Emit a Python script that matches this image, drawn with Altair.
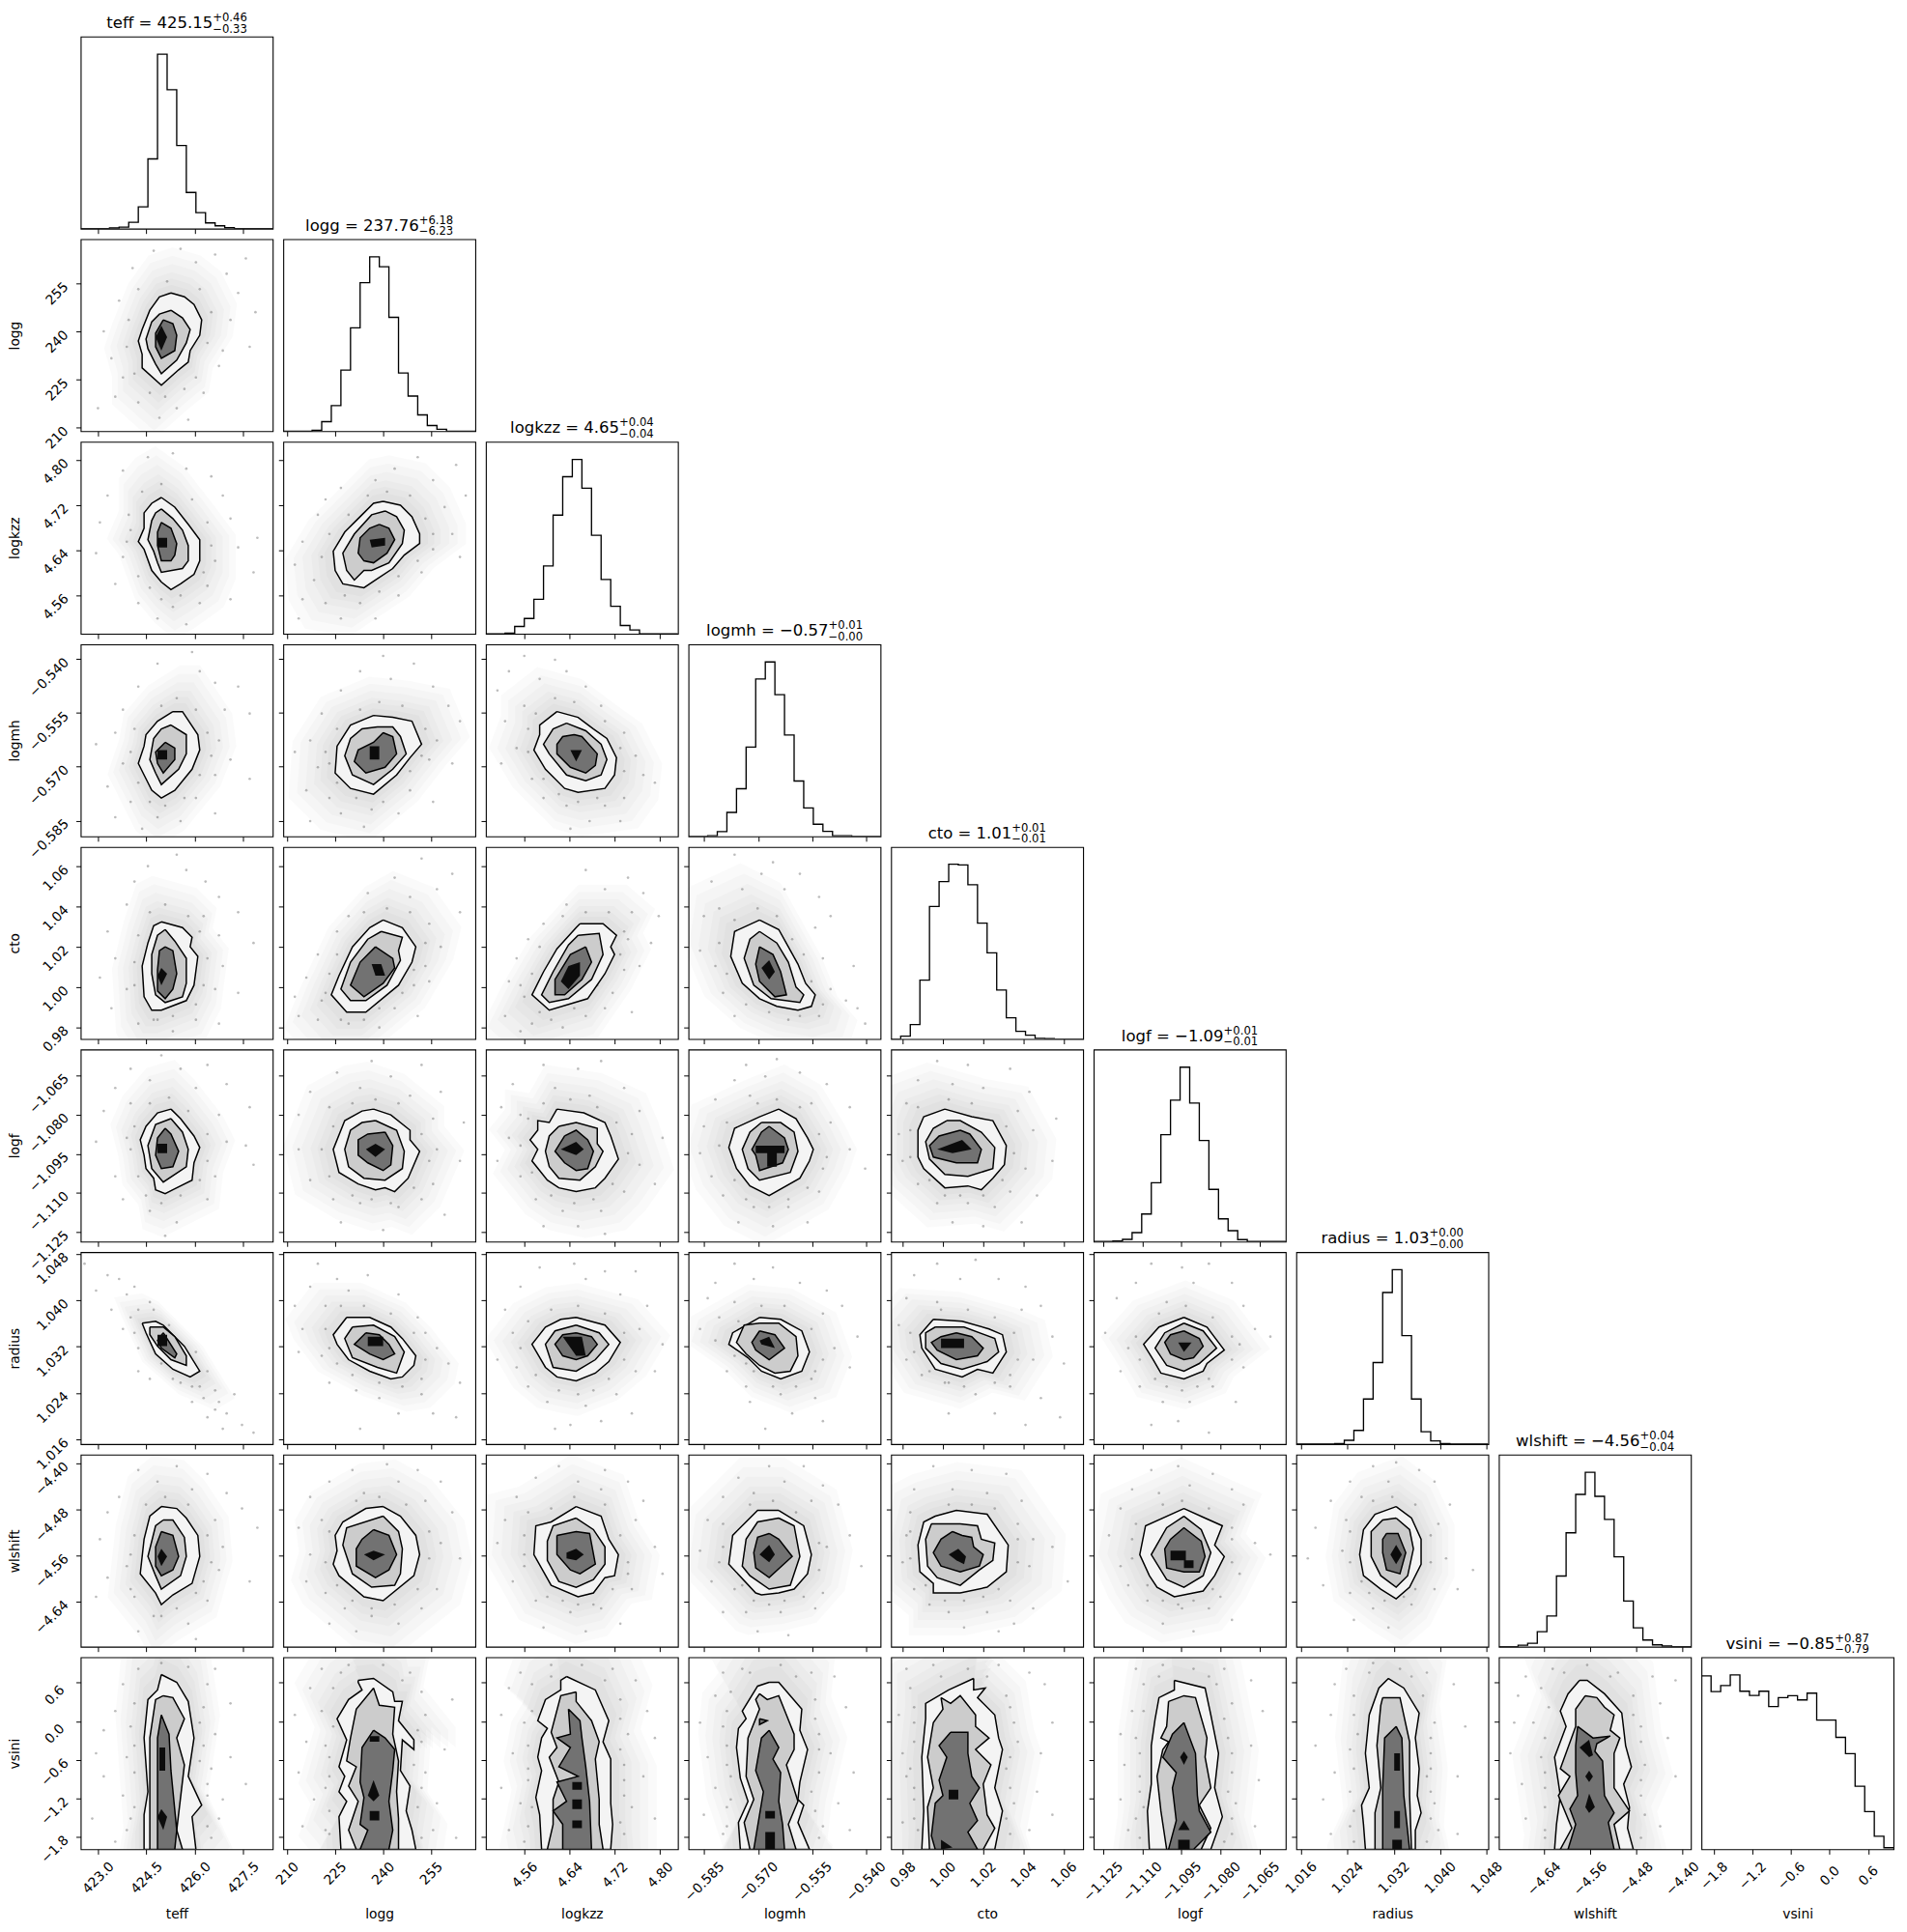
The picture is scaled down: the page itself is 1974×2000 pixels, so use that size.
import altair as alt
import pandas as pd

NAMES = ["teff", "logg", "logkzz", "logmh", "cto", "logf", "radius", "wlshift", "vsini"]
LOW = [422.46, 208.8, 4.4913, -0.5894, 0.9742, -1.1286, 1.01517, -4.7183, -1.994]
HIGH = [428.42, 268.8, 4.8317, -0.5359, 1.0696, -1.0551, 1.0483, -4.385, 0.994]
TICKS = [
    [423.0, 424.5, 426.0, 427.5], [210, 225, 240, 255], [4.56, 4.64, 4.72, 4.80],
    [-0.585, -0.570, -0.555, -0.540], [0.98, 1.00, 1.02, 1.04, 1.06],
    [-1.125, -1.110, -1.095, -1.080, -1.065], [1.016, 1.024, 1.032, 1.040, 1.048],
    [-4.64, -4.56, -4.48, -4.40], [-1.8, -1.2, -0.6, 0.0, 0.6],
]
FORMATS = [".1f", "d", ".2f", ".3f", ".2f", ".3f", ".3f", ".2f", ".1f"]
TITLE_MAIN = ["425.15", "237.76", "4.65", "\u22120.57", "1.01", "\u22121.09", "1.03", "\u22124.56", "\u22120.85"]
TITLE_UP = ["+0.46", "+6.18", "+0.04", "+0.01", "+0.01", "+0.01", "+0.00", "+0.04", "+0.87"]
TITLE_DOWN = ["\u22120.33", "\u22126.23", "\u22120.04", "\u22120.00", "\u22120.01", "\u22120.01", "\u22120.00", "\u22120.04", "\u22120.79"]

HIST = [
    [0, 0, 0, 2, 5, 20, 68, 218, 545, 434, 260, 113, 50, 18, 9, 3, 0, 0, 0, 0],
    [0, 0, 0, 3, 30, 80, 191, 323, 464, 545, 514, 356, 182, 110, 51, 18, 6, 0, 0, 0],
    [0, 0, 2, 23, 48, 108, 212, 371, 491, 545, 455, 308, 170, 86, 26, 12, 0, 0, 0, 0],
    [0, 0, 2, 15, 75, 149, 279, 492, 545, 443, 317, 173, 89, 38, 16, 2, 2, 0, 0, 0],
    [0, 9, 45, 184, 414, 492, 546, 544, 482, 362, 269, 153, 66, 24, 12, 2, 1, 0, 0, 0],
    [0, 0, 2, 7, 28, 86, 184, 334, 442, 545, 433, 316, 163, 71, 34, 6, 0, 0, 0, 0],
    [0, 0, 0, 0, 2, 12, 43, 141, 255, 474, 545, 339, 141, 39, 10, 2, 0, 0, 0, 0],
    [0, 0, 5, 11, 47, 96, 221, 356, 476, 545, 470, 398, 281, 143, 59, 21, 6, 2, 0, 0],
    [542, 493, 512, 545, 494, 481, 494, 446, 474, 480, 467, 488, 404, 404, 350, 299, 197, 118, 41, 5],
]

# Contours, as percent of the axis span (x from the left, y from the top).
# (row, col): (outer level, middle level, inner pieces, darkest pieces)
CONTOURS = {
(1,0):("47,28 54,30 59,34 63,42 62,50 57,58 56,64 51,68 42,76 32,67 32,60 30,53 32,47 36,37 41,30","47,37 53,41 57,47 55,54 50,63 42,70 39,65 35,57 34,52 37,43 41,39","43,42 48,44 50,50 49,58 42,62 39,56 39,49","42,45 45,51 42,58 39,51"),
(2,0):("42,29 49,34 56,43 62,51 62,62 59,69 52,74 47,77 42,73 37,67 33,56 30,52 33,45 33,37 37,32","42,35 48,40 53,46 56,54 56,62 53,66 42,68 40,63 38,57 35,51 37,41 39,37","42,42 47,45 50,53 49,59 47,62 42,62 40,54 40,47","40,50 45,50 45,55 40,55"),
(2,1):("52,31 61,33 67,39 71,48 71,53 63,59 57,66 48,72 42,76 31,74 27,67 26,57 32,47 40,39 47,32","53,36 59,39 63,46 62,53 55,63 46,67 42,67 37,72 33,67 31,58 37,48 46,38","50,43 55,45 58,51 54,58 47,63 42,62 39,58 40,50 45,45","45,51 53,50 53,54 46,55"),
(3,0):("48,35 53,35 61,47 62,55 58,65 49,76 42,80 37,76 33,68 30,62 33,53 34,47 40,40","47,42 55,47 55,57 51,65 42,73 39,67 36,60 38,49 42,44","44,51 49,54 49,60 43,67 40,62 39,56","40,55 45,55 45,60 40,60"),
(3,1):("47,37 57,38 67,40 72,52 66,59 59,68 47,78 35,75 27,67 28,53 35,42","49,43 57,43 61,48 64,57 57,65 47,73 36,68 32,58 35,49 41,44","52,46 57,48 59,57 53,64 43,67 37,61 39,55 47,51","45,53 50,53 50,60 45,60"),
(3,2):("37,35 48,38 56,44 63,49 68,59 67,68 62,75 48,77 41,75 31,65 25,55 28,47 28,42","42,41 52,45 60,52 63,60 60,68 52,71 42,68 33,57 30,52 35,44","46,47 50,48 58,57 57,63 52,67 44,64 37,57 37,52 40,48","44,55 50,55 47,61"),
(4,0):("42,39 53,42 58,47 57,52 61,57 59,72 55,80 42,85 37,85 33,78 32,62 35,50 38,41","44,43 49,49 55,58 55,71 53,78 44,81 39,77 37,66 37,56 40,46","44,52 48,54 50,66 48,74 44,79 40,75 40,64 41,54","42,63 45,66 42,72 40,67"),
(4,1):("52,38 62,42 69,52 67,60 60,72 43,86 33,86 25,77 29,67 36,52 45,42","51,44 62,47 60,54 61,59 54,72 43,80 35,80 30,74 35,60 44,48","48,52 57,58 58,63 52,71 42,78 35,72 40,60","46,61 51,61 53,67 48,67"),
(4,2):("49,40 61,40 68,46 65,52 67,56 62,66 53,79 33,85 24,77 30,65 37,53 47,42","48,46 59,45 61,56 55,69 43,79 33,81 29,77 35,65 43,51","52,52 55,60 50,69 41,77 36,77 36,69 44,56","43,62 49,60 49,67 43,74 39,70"),
(4,3):("37,38 47,43 52,52 57,61 61,71 66,77 64,83 57,85 46,83 37,79 28,71 22,57 24,44","37,44 46,50 52,60 56,73 60,77 58,81 43,79 34,72 29,58 32,48","37,52 44,56 48,65 51,77 45,78 37,70 35,61","42,59 45,65 42,69 38,63"),
(5,0):("47,31 52,36 59,45 62,51 59,59 58,68 48,73 44,75 39,73 38,67 34,62 33,55 31,47 34,40 40,33","47,36 53,43 56,52 55,61 43,69 37,62 35,50 39,39","44,41 47,44 51,53 48,61 42,62 39,55 40,46","40,49 45,49 45,54 40,54"),
(5,1):("47,31 56,34 66,42 66,47 71,53 65,67 58,74 53,72 48,73 39,70 29,64 26,52 32,37 41,32","48,37 59,42 63,53 62,62 53,68 42,67 34,61 32,52 35,42 41,38","53,43 57,50 56,60 52,63 44,59 39,55 39,47 44,44","43,52 48,49 53,52 48,56"),
(5,2):("37,31 51,33 62,38 65,45 69,57 62,67 57,72 47,74 38,72 32,68 24,58 27,52 23,47 27,42 27,37 33,38","38,40 47,38 58,41 58,49 61,53 57,61 49,68 38,67 33,61 31,53 33,45","41,45 47,42 53,47 56,53 53,62 47,63 41,59 36,53","39,52 47,48 51,52 47,55"),
(5,3):("47,31 56,36 62,46 65,52 63,58 58,67 42,76 32,71 25,62 21,51 24,41 37,35","38,38 48,38 55,43 57,53 53,64 37,68 31,62 28,52 32,43","42,40 50,46 52,52 49,59 37,63 35,55 33,52 38,43","35,50 50,50 50,54 46,54 46,61 41,61 41,54 35,54"),
(5,4):("28,31 42,35 53,37 60,50 59,60 53,67 47,73 40,71 28,72 17,62 14,56 14,42 17,35","29,37 36,37 47,43 54,51 53,62 40,66 28,65 20,57 18,48 22,41","36,42 41,44 47,52 45,59 34,59 22,56 20,50 25,45","24,52 37,47 42,52 32,54"),
(6,0):("32,37 39,36 43,38 54,49 62,62 57,65 48,61 39,53 34,42","36,39 43,39 49,44 55,54 55,59 47,56 40,49 36,43","43,42 50,53 49,55 42,50 40,46","40,43 45,43 45,49 40,49"),
(6,1):("33,34 45,34 56,39 62,45 69,54 68,59 62,65 56,66 45,62 34,56 28,48 26,43","36,39 47,38 58,44 63,52 59,63 49,60 36,55 32,45","43,42 50,43 55,48 58,53 52,56 45,53 37,48","44,44 52,44 52,49 44,49"),
(6,2):("47,34 62,38 70,47 64,57 57,63 47,67 37,65 31,60 24,48 31,39 39,35","47,38 59,42 64,48 57,56 47,62 35,60 31,48 36,41","47,42 55,44 58,48 53,54 47,56 40,54 36,48 40,43","40,44 50,44 52,54 47,54"),
(6,3):("37,34 48,35 59,41 63,52 59,62 48,66 38,62 31,55 21,48 23,42","37,37 47,37 56,44 57,54 53,62 45,63 37,59 30,53 25,47 29,38","37,41 45,43 50,50 42,56 35,51 33,47","37,46 42,44 45,50 38,48"),
(6,4):("22,35 37,36 51,40 58,43 60,52 53,63 45,61 37,65 23,61 16,50 15,43","23,39 38,39 54,45 56,52 50,57 37,61 26,58 18,50 18,42","34,42 42,44 48,50 45,54 34,56 24,51 21,47 26,44","26,45 38,45 38,50 26,50"),
(6,5):("47,34 59,39 68,51 59,58 57,62 47,66 35,63 31,56 26,48 34,39","47,37 57,41 64,50 55,58 47,62 38,59 32,50 37,42","47,41 55,45 57,49 52,55 47,56 40,53 37,47 40,43","44,47 51,47 47,52"),
(7,0):("42,27 50,28 55,33 61,42 62,53 58,67 48,73 42,78 39,72 31,62 33,44 36,32","43,34 48,34 54,43 55,53 52,63 42,70 39,63 35,53 39,37","42,40 48,42 51,53 48,60 42,63 39,58 39,48","42,49 45,53 42,58 40,53"),
(7,1):("52,27 61,32 69,42 71,52 68,63 52,76 42,74 29,63 26,57 28,50 27,42 31,35 43,28","52,32 60,40 62,49 61,62 58,68 46,69 36,62 33,53 31,47 33,38","47,39 55,42 59,52 55,60 48,64 38,58 38,49 41,44","42,52 47,50 53,52 47,55"),
(7,2):("47,27 60,32 64,44 69,52 67,63 62,64 56,72 48,74 34,68 25,52 26,37 34,35","47,33 56,39 62,48 62,57 56,65 47,69 38,66 32,55 32,45 35,37","37,42 47,40 54,41 57,57 49,62 44,60 37,52","42,51 47,49 51,52 47,55 42,54"),
(7,3):("47,29 60,37 64,52 62,62 55,70 47,72 38,73 35,72 21,57 23,42 36,29","47,33 55,37 58,53 53,68 42,70 32,63 28,58 30,44 36,35","42,41 47,44 54,53 42,64 35,59 34,51 36,43","42,47 45,52 42,56 37,52"),
(7,4):("23,32 34,29 50,31 61,47 60,61 50,69 36,72 22,72 22,67 15,61 14,47 17,35","21,36 36,36 45,37 47,44 54,46 53,55 46,60 36,68 24,64 19,58 18,44","32,40 37,42 42,43 43,48 48,52 46,58 36,61 26,58 22,51 26,44","30,52 35,49 39,53 38,57 34,55"),
(7,5):("47,28 58,33 67,37 63,47 68,53 63,63 57,71 42,74 33,69 29,63 24,52 27,37","47,32 56,39 61,51 57,63 47,69 38,65 30,52 38,38","47,38 56,45 58,53 55,61 47,61 38,59 37,49 40,44","40,50 48,50 48,55 52,55 52,59 47,59 47,55 40,55"),
(7,6):("52,27 60,33 65,44 65,57 59,69 52,75 44,70 35,63 33,52 35,39 41,31","52,33 59,39 61,49 58,63 52,69 44,63 39,53 39,40 45,34","47,41 53,41 57,51 54,62 47,60 45,51 45,44","52,47 55,52 52,57 49,52"),
(8,0):("42,9 50,13 56,23 59,42 56,62 63,77 58,83 60,100 33,100 33,82 35,70 33,42 35,22 40,17","43,20 48,21 54,32 50,42 54,56 50,90 53,100 36,100 36,90 36,42 39,22","42,30 46,40 47,59 50,90 49,100 40,100 40,78 40,42","41,47 44,47 44,59 41,59|42,79 45,83 43,90 40,83"),
(8,1):("39,12 47,11 57,18 58,23 62,23 60,33 68,43 68,48 62,43 61,59 66,67 64,80 67,90 69,100 30,100 29,83 33,75 29,70 32,62 29,57 33,43 28,32 34,22 41,17 39,13","47,16 50,25 58,26 57,40 60,54 59,70 60,84 60,100 38,100 34,90 39,75 34,67 38,57 33,54 35,42 38,27","47,38 53,42 58,48 57,59 55,75 57,90 55,100 40,100 44,90 40,87 42,73 40,65 41,47","47,64 50,72 47,75 44,72|45,80 50,80 50,85 45,85|45,41 50,41 50,44 45,44"),
(8,2):("42,10 57,17 64,33 61,44 65,53 65,76 66,87 65,100 29,100 28,82 26,73 29,59 27,52 29,42 32,37 27,33 31,22 39,17 39,12","47,18 47,23 55,33 59,44 57,53 59,74 59,87 61,100 32,100 35,87 35,74 38,65 33,52 37,47 34,39 39,20","43,27 49,33 50,42 52,57 54,75 55,100 40,100 40,87 35,80 42,75 37,65 48,62 38,57 44,47 37,42 44,40","45,65 50,65 50,69 45,69|45,74 50,74 50,79 45,79|45,85 50,85 50,89 45,89"),
(8,3):("42,13 47,13 59,27 58,38 62,48 58,65 57,74 60,77 57,86 63,100 27,100 26,86 31,75 27,63 25,47 26,37 30,32 28,28 36,15","37,19 41,22 47,20 51,30 55,40 55,48 51,56 57,75 52,87 56,100 32,100 29,86 34,74 30,62 31,42 37,27 35,22","42,38 47,47 44,53 48,60 47,75 49,87 50,100 34,100 36,88 39,70 35,59 38,42|37,32 41,33 37,35","40,80 45,80 45,84 40,84|40,91 45,91 45,100 40,100"),
(8,4):("43,11 43,17 49,16 45,21 54,30 56,42 58,48 54,68 58,80 54,100 16,100 17,80 16,52 18,32 18,24 30,17","26,21 31,24 36,20 44,30 44,36 51,42 44,48 52,56 48,66 50,82 54,89 48,100 20,100 19,78 22,68 19,52 22,34 27,27","31,39 40,39 40,50 42,62 46,68 41,76 45,85 40,91 45,100 23,100 21,93 23,76 27,72 25,64 29,52 25,46","30,69 35,69 35,74 30,74|26,95 32,99 26,100"),
(8,5):("42,12 58,16 61,30 65,50 63,68 67,83 61,100 29,100 28,80 30,66 30,46 32,32 34,21 42,17","39,23 47,20 53,21 59,42 58,52 61,68 55,77 61,89 56,100 38,100 35,80 33,62 36,48 39,44 35,42 38,36","47,34 53,50 54,72 55,80 61,91 52,100 39,100 43,85 41,68 43,60 36,52 41,40","47,85 50,90 44,90|44,95 50,95 50,100 44,100|47,49 49,52 47,56 45,52"),
(8,6):("48,11 56,16 64,29 62,42 64,58 63,72 65,81 62,90 62,100 36,100 35,87 34,77 38,68 36,50 38,30 43,16","45,21 54,21 59,44 59,72 60,100 41,100 41,81 44,68 42,46 44,25","52,36 55,42 56,72 59,100 45,100 45,68 46,42","51,50 54,50 54,59 51,59|51,80 54,80 54,89 51,89|50,95 55,95 55,100 50,100"),
(8,7):("42,12 46,12 55,19 64,29 66,46 69,57 65,66 68,78 67,89 70,100 29,100 30,87 32,72 29,52 35,36 32,28 36,19","45,20 51,21 55,26 60,30 58,38 63,42 60,50 60,58 60,68 68,80 60,87 63,100 32,100 38,89 31,72 37,62 32,58 40,36 40,27","41,36 49,42 58,41 51,45 50,49 54,54 55,72 60,81 57,86 60,100 36,100 40,87 37,79 41,72 40,60 40,46","47,43 49,51 47,52 42,47|47,59 49,62 47,65 45,62|47,71 50,78 47,81 45,78"),
}

# A hand-read sample of the loose dots around the contours, percent of the axis span as above.
DOTS = {
(1,0):"38,6 52,5 70,8 86,10 27,15 60,12 76,18 20,32 82,28 91,38 12,48 78,42 16,62 74,58 88,56 22,72 72,66 30,85 50,88 64,80 41,93 18,82 56,94 9,88 45,22 30,26 62,26 68,38 25,42 24,56 66,54 28,70 60,72 44,82 36,80 54,78",
(2,0):"35,8 48,6 22,15 55,14 68,18 14,28 74,28 10,42 25,38 78,40 82,55 8,58 22,60 70,62 90,68 18,74 66,75 30,84 48,86 62,84 78,82 40,92 92,50 55,95 42,22 32,26 58,30 66,42 26,46 68,54 24,52 30,70 64,68 42,82 52,80 36,76",
(2,1):"70,8 90,12 58,14 48,20 78,20 95,28 30,24 84,34 18,38 22,30 88,48 10,52 78,56 6,64 16,72 72,68 10,82 22,84 40,84 60,80 30,92 48,92 8,92 92,60 54,26 66,28 44,28 74,40 78,48 34,38 24,48 20,60 70,62 60,70 50,78 32,80",
(3,0):"58,4 40,10 62,14 70,20 82,22 30,22 22,34 75,34 88,36 18,46 72,50 8,52 22,62 70,68 78,60 14,74 26,82 60,80 40,90 52,92 18,90 70,88 88,70 32,96 50,28 42,32 60,34 66,46 28,44 26,56 68,58 30,72 62,68 44,84 54,80 36,82",
(3,1):"52,6 68,10 40,14 56,18 78,22 30,24 86,32 20,36 92,40 14,50 80,50 6,56 18,64 76,60 88,62 12,76 24,80 66,76 30,88 46,86 60,88 14,92 42,95 78,82 50,30 62,32 40,34 74,44 28,44 22,56 72,58 66,66 28,72 38,80 52,82 24,62",
(3,2):"20,6 36,8 12,14 42,14 28,18 6,24 52,22 20,32 60,32 10,40 72,46 16,54 78,58 8,62 24,70 82,68 30,80 72,80 42,84 62,84 88,72 54,92 70,92 44,96 36,28 46,30 26,36 62,40 22,44 70,54 22,56 72,66 30,70 48,82 58,80 38,78",
(4,0):"50,4 35,10 55,12 28,18 65,18 72,26 24,30 82,34 64,36 14,44 72,46 90,50 18,58 74,62 10,68 24,74 70,74 82,76 16,84 40,90 60,90 30,92 48,96 72,92 44,30 36,34 56,36 62,44 30,46 28,60 66,58 28,72 64,72 48,88 38,90 60,82",
(4,1):"72,6 88,14 58,16 80,22 44,24 66,26 92,34 34,36 28,44 76,40 82,52 18,56 74,62 12,68 20,80 68,72 76,70 8,88 18,90 58,84 34,92 50,94 70,88 6,78 54,32 66,34 42,34 74,50 28,56 24,66 68,64 62,76 22,76 42,90 30,90 50,84",
(4,2):"52,12 74,16 62,22 82,24 42,30 30,40 76,34 90,36 22,48 74,48 86,50 16,58 72,64 12,70 20,78 66,76 80,62 10,88 24,92 52,88 62,84 40,94 18,96 76,86 52,34 64,34 40,36 72,44 28,52 24,66 70,56 58,72 46,84 34,90 18,72 28,86",
(4,3):"24,4 44,8 12,18 38,14 58,14 28,22 50,22 68,26 8,36 16,32 66,42 74,36 6,54 14,62 70,58 86,62 18,76 74,74 82,80 24,88 52,90 68,88 92,92 88,84 36,32 24,38 46,36 54,48 60,56 16,50 20,66 64,70 70,82 30,82 42,86 58,88",
(5,0):"42,3 26,10 52,10 66,8 18,20 36,16 60,20 76,18 12,32 26,28 72,34 88,30 8,48 24,46 76,48 86,50 18,66 70,66 90,60 22,78 66,78 36,84 50,90 44,97 46,25 36,28 56,32 66,44 28,40 26,52 66,58 30,66 62,68 42,80 52,76 34,76",
(5,1):"46,6 72,8 28,12 56,14 14,22 82,22 40,20 66,24 8,34 24,30 78,36 94,38 8,52 80,52 92,58 14,68 78,70 26,78 72,78 40,80 60,82 30,90 52,94 84,86 48,26 60,28 36,28 72,44 26,40 20,52 76,58 24,66 68,72 46,78 56,80 36,76",
(5,2):"30,8 48,10 60,6 14,18 72,20 36,20 54,24 8,30 80,32 18,34 12,46 76,44 92,46 6,58 80,60 18,66 88,70 26,78 72,74 40,84 60,84 48,92 30,92 62,96 44,26 30,28 58,30 68,38 22,36 18,50 74,54 24,64 66,70 46,80 56,78 34,76",
(5,3):"30,8 46,5 24,16 40,14 58,12 72,18 14,26 32,24 64,28 8,40 74,38 84,30 6,54 12,66 72,56 84,52 92,62 18,76 68,74 34,82 52,82 44,92 62,90 26,90 46,26 36,28 58,30 68,44 20,38 16,50 70,62 24,68 62,72 42,82 52,78 30,78",
(5,4):"24,6 40,8 62,10 14,16 32,18 48,20 72,22 8,28 66,32 4,44 74,42 86,36 6,58 70,62 84,58 14,70 62,74 76,76 24,80 40,80 54,82 32,90 48,92 68,90 30,26 42,28 14,30 60,40 10,42 64,54 10,56 20,68 58,68 36,76 48,76 28,76",
(6,0):"2,6 14,12 8,20 20,14 28,18 16,30 36,26 22,40 46,38 30,50 30,62 36,66 60,52 52,68 62,70 70,72 58,78 76,84 70,82 84,90 66,86 80,74 90,94 74,92 24,22 30,30 38,30 26,34 42,58 48,66 58,70 66,62 64,76 72,78 54,60 28,42",
(6,1):"18,6 14,18 28,14 44,12 6,28 34,20 60,22 10,40 22,28 70,34 74,42 8,52 20,54 80,50 86,58 24,68 38,72 72,74 50,76 92,68 60,84 78,84 90,86 40,92 30,28 42,28 56,32 68,42 22,40 24,50 74,56 36,64 50,68 62,70 72,66 28,58",
(6,2):"28,8 46,6 62,10 78,10 18,18 52,14 70,22 10,30 84,28 14,42 80,40 6,56 92,48 16,60 78,62 88,62 22,70 68,74 32,78 52,80 44,90 60,88 36,92 76,84 48,28 34,30 62,32 72,42 22,36 18,50 72,56 26,64 64,66 48,74 38,72 56,72",
(6,3):"24,6 44,8 14,16 34,14 58,16 72,20 10,24 24,26 80,28 16,34 88,44 6,40 70,32 76,50 64,66 84,60 20,62 30,70 48,74 66,76 54,84 40,92 70,88 32,78 38,28 50,28 26,36 64,40 14,46 24,54 70,56 34,62 56,70 44,70 66,62 30,58",
(6,4):"24,6 44,4 12,12 36,14 56,14 70,18 8,24 24,26 78,28 4,38 68,30 84,44 8,56 74,56 90,58 16,64 28,68 44,74 62,70 78,76 30,84 54,84 70,90 88,86 26,30 40,30 54,34 64,42 10,42 12,52 66,56 20,62 38,70 54,68 30,68 62,64",
(6,5):"30,6 46,8 60,6 22,16 52,16 72,16 12,24 38,26 78,28 6,42 84,40 18,50 76,48 92,44 14,62 78,60 24,70 62,70 36,78 50,78 74,78 44,88 30,90 60,94 48,28 34,32 62,34 72,44 22,44 24,56 72,56 32,66 60,66 46,72 38,70 54,70",
(7,0):"50,6 30,8 66,10 40,14 20,22 58,18 76,20 14,30 84,28 10,44 70,34 26,52 74,48 92,38 14,64 72,60 88,66 8,74 28,74 66,76 42,84 56,88 30,92 60,96 44,22 34,26 56,26 66,42 28,42 24,58 68,56 26,70 60,72 50,80 38,84 64,66",
(7,1):"54,5 36,8 70,8 24,14 60,14 82,14 14,22 42,20 88,30 8,38 20,34 74,24 82,46 92,54 14,52 12,66 22,72 80,70 32,80 72,80 46,84 60,88 38,92 24,88 50,22 38,24 64,26 76,40 24,40 22,56 76,54 28,68 70,70 46,80 58,78 36,76",
(7,2):"38,6 62,8 26,12 48,14 74,14 16,22 60,18 82,24 10,34 22,30 78,34 6,46 88,48 20,52 74,56 14,66 92,62 26,76 76,70 44,82 60,80 30,90 52,92 70,88 46,22 34,28 62,26 70,42 20,42 20,58 74,62 32,74 66,70 48,78 56,78 40,76",
(7,3):"42,6 60,6 26,12 50,14 70,16 18,22 34,20 78,26 10,34 64,24 84,42 6,50 18,48 72,48 90,58 12,66 24,70 70,72 30,82 48,82 66,80 36,92 52,94 18,82 44,24 32,26 56,30 68,46 18,36 16,56 68,60 28,68 60,74 42,78 50,76 34,76",
(7,4):"22,6 42,8 60,10 12,18 32,18 50,20 68,24 10,30 8,42 66,36 74,44 84,48 6,56 72,58 92,66 12,70 20,78 62,76 30,82 50,82 74,80 38,90 56,92 64,88 30,26 42,26 54,28 66,44 10,40 10,54 66,56 18,68 56,70 38,76 48,74 28,76",
(7,5):"30,8 44,6 62,10 20,18 50,16 72,18 14,28 34,20 78,26 8,42 20,44 72,38 84,46 92,52 14,58 76,62 18,68 28,76 66,74 46,80 60,80 36,88 52,92 72,86 46,24 36,26 60,28 72,44 22,36 20,54 72,56 28,68 62,70 44,78 52,76 36,76",
(7,6):"40,6 52,4 64,8 28,14 48,14 72,14 18,24 34,22 80,26 10,38 26,34 74,36 6,54 24,50 78,54 92,60 14,68 28,72 72,70 84,70 40,80 60,78 48,90 30,86 50,22 40,24 62,26 70,42 28,40 28,56 70,56 34,66 62,70 46,76 56,74 38,72",
(8,0):"30,6 42,3 56,5 70,6 22,14 66,14 18,28 64,26 78,24 12,38 70,40 8,50 24,52 78,52 12,62 68,58 86,66 22,72 74,74 6,84 24,90 72,84 18,96 68,94 28,24 62,34 26,36 64,46 28,46 62,54 28,60 66,66 28,78 66,72 26,84 66,88",
(8,1):"20,6 34,4 52,4 66,8 14,16 26,16 72,18 6,30 20,28 74,30 88,22 12,44 22,46 72,44 84,48 8,60 24,62 74,60 16,74 80,76 10,88 24,92 78,90 90,94 26,36 70,38 24,52 68,56 22,68 72,68 24,80 70,78 22,90 72,94 30,8 62,12",
(8,2):"18,8 34,4 50,4 66,6 78,12 12,16 24,14 70,22 84,28 8,30 20,34 74,40 88,42 14,50 22,58 72,56 82,62 8,68 18,76 76,78 88,84 12,90 20,96 72,92 24,28 70,32 22,46 70,48 22,64 72,64 24,78 72,72 22,88 70,86 34,10 62,12",
(8,3):"18,8 28,6 48,4 64,8 76,10 14,20 22,18 66,22 82,26 6,34 18,36 68,40 74,50 10,52 20,56 86,60 14,68 22,74 64,70 78,76 8,82 18,92 70,88 84,90 20,28 66,32 20,46 68,48 22,62 68,60 20,78 66,80 20,88 68,94 32,8 56,10",
(8,4):"8,6 22,4 40,6 56,4 72,8 10,16 60,20 80,14 4,30 12,34 64,34 84,34 6,50 62,52 78,50 8,62 12,74 62,68 76,70 6,86 14,90 60,84 72,90 84,82 12,26 62,26 12,44 66,44 10,58 60,58 12,68 64,76 12,84 62,92 26,10 50,10",
(8,5):"22,6 36,4 52,6 68,6 82,12 26,14 64,14 20,28 72,24 88,28 14,40 22,42 70,42 82,46 16,56 24,62 72,60 86,64 14,74 26,78 74,76 18,90 72,92 84,88 26,28 68,32 24,50 72,50 24,70 70,70 22,84 72,84 24,94 68,96 34,10 60,10",
(8,6):"26,6 40,3 54,6 68,8 82,14 20,14 30,20 66,20 18,30 30,30 72,34 88,36 10,46 28,48 70,50 20,60 68,62 84,62 14,74 30,80 72,76 18,92 74,90 84,92 32,40 70,42 30,58 70,58 28,70 70,70 28,88 70,84 30,96 68,96 38,8 60,10",
(8,7):"14,10 28,6 46,4 62,8 80,10 92,12 10,20 22,16 70,20 84,24 8,34 18,34 74,36 88,42 6,50 22,52 76,56 92,62 12,66 24,68 74,72 14,84 24,90 84,88 26,26 70,30 24,42 74,44 24,60 74,64 24,78 76,82 24,94 74,94 34,8 58,10",
}

LEVELS = [("#f4f4f4", 1.5), ("#cccccc", 1.5), ("#727272", 1.5)]
FONT = "DejaVu Sans"
TICK_SIZE = 13.9
ADV = {"l": .278, "o": .612, "g": .635, "t": .392, "e": .615, "f": .352, "k": .579, "z": .525, "m": .974, "h": .634,
       "c": .55, "r": .411, "a": .613, "d": .635, "i": .278, "u": .634, "s": .521, "w": .818, "v": .592, "n": .634,
       " ": .318, "=": .838, ".": .318, "\u2212": .838, "+": .838}


def text_width(s, size):
    return sum(ADV.get(ch, .636) for ch in s) * size


def half_extent(labels):
    w = max(text_width(t, 13.3) for t in labels)
    return .3535 * (w + 13) - 2.5


def tick_labels(p):
    out = []
    for v in TICKS[p]:
        t = format(v, FORMATS[p]).replace("-", "\u2212")
        out.append(t)
    return out


def to_x(p, v):
    return LOW[p] + v / 100 * (HIGH[p] - LOW[p])


def to_y(p, v):
    return HIGH[p] - v / 100 * (HIGH[p] - LOW[p])


def parse(s):
    return [tuple(float(n) for n in pair.split(",")) for pair in s.split()]


def x_channel(p, row):
    half = half_extent(tick_labels(p))
    kw = dict(values=TICKS[p], format=FORMATS[p], tickSize=5, labels=row == 8, grid=False, domain=False,
              labelAngle=315, labelAlign="center", labelBaseline="middle", labelPadding=9 + half,
              labelOverlap=False, labelFontSize=TICK_SIZE, labelFont=FONT, labelColor="black", tickColor="black")
    if row == 8:
        kw.update(titleX=100, titleY=68, titleFont=FONT, titleFontSize=TICK_SIZE, titleFontWeight="normal",
                  titleColor="black", titleBaseline="middle", titleAlign="center")
    return alt.X("x:Q", scale=alt.Scale(domain=[LOW[p], HIGH[p]], nice=False, zero=False),
                 axis=alt.Axis(**kw), title=NAMES[p] if row == 8 else None)


def y_channel(p, col):
    half = half_extent(tick_labels(p))
    kw = dict(values=TICKS[p], format=FORMATS[p], tickSize=5, labels=col == 0, grid=False, domain=False,
              labelAngle=315, labelAlign="center", labelBaseline="middle", labelPadding=8.7 + half,
              labelOffset=half - .5, labelOverlap=False, labelFontSize=TICK_SIZE, labelFont=FONT,
              labelColor="black", tickColor="black")
    if col == 0:
        kw.update(titleX=-68, titleY=100, titleAngle=270, titleFont=FONT, titleFontSize=TICK_SIZE,
                  titleFontWeight="normal", titleColor="black", titleBaseline="middle", titleAlign="center")
    return alt.Y("y:Q", scale=alt.Scale(domain=[LOW[p], HIGH[p]], nice=False, zero=False),
                 axis=alt.Axis(**kw), title=NAMES[p] if col == 0 else None)


def ring_frame(pieces, px, py, grow=1.0):
    rows = []
    for k, pts in enumerate(pieces):
        cx = sum(a for a, _ in pts) / len(pts)
        cy = sum(b for _, b in pts) / len(pts)
        closed = pts + [pts[0]]
        for i, (a, b) in enumerate(closed):
            rows.append({"x": to_x(px, cx + (a - cx) * grow), "y": to_y(py, cy + (b - cy) * grow), "i": i, "ring": k})
    return pd.DataFrame(rows)


def corner_panel(row, col):
    x = x_channel(col, row)
    y = y_channel(row, col)
    outer, mid, inner, dark = CONTOURS[(row, col)]

    def rings(spec, **mark):
        df = ring_frame([parse(s) for s in spec.split("|")], col, row, mark.pop("grow", 1.0))
        return alt.Chart(df).mark_line(clip=True, **mark).encode(x=x, y=y, order="i:Q", detail="ring:N")

    dots = pd.DataFrame([{"x": to_x(col, a), "y": to_y(row, b)} for a, b in parse(DOTS[(row, col)])])
    layers = [rings(outer, grow=g, fill="black", fillOpacity=.02, strokeWidth=0)
              for g in (2.1, 1.9, 1.7, 1.5, 1.35, 1.2)]
    layers.append(alt.Chart(dots).mark_circle(size=7, color="#222222", opacity=.3, clip=True).encode(x=x, y=y))
    for spec, (shade, lw) in zip((outer, mid, inner), LEVELS):
        layers.append(rings(spec, fill=shade, stroke="black", strokeWidth=lw))
    layers.append(rings(dark, fill="#0c0c0c", strokeWidth=0))
    return alt.layer(*layers).properties(width=200, height=200)


def hist_panel(p):
    span = HIGH[p] - LOW[p]
    edges = [LOW[p] + span * k / 20 for k in range(21)]
    counts = HIST[p] + [HIST[p][-1]]
    df = pd.DataFrame({"x": edges, "y": counts})
    x = x_channel(p, p)
    y = alt.Y("y:Q", scale=alt.Scale(domain=[0, 600], nice=False, zero=False), axis=None)
    steps = alt.Chart(df).mark_line(interpolate="step-after", color="black", strokeWidth=1.35, clip=True).encode(x=x, y=y)

    main = f"{NAMES[p]} = {TITLE_MAIN[p]}"
    wm, ws = text_width(main, 16.6), text_width(TITLE_UP[p], 11.7)
    split = 100 + (wm - ws) / 2
    one = pd.DataFrame({"a": [0]})

    def label(text, size, dy, align):
        return alt.Chart(one).mark_text(text=text, fontSize=size, font=FONT, color="black", align=align,
                                        baseline="alphabetic").encode(x=alt.value(split), y=alt.value(dy))

    return alt.layer(steps, label(main, 16.6, -9, "right"), label(TITLE_UP[p], 11.7, -16, "left"),
                     label(TITLE_DOWN[p], 11.7, -4.4, "left")).properties(width=200, height=200)


def blank():
    return alt.Chart(pd.DataFrame({"a": [0]})).mark_point(opacity=0).encode(
        x=alt.value(0), y=alt.value(0)).properties(width=200, height=200, view=alt.ViewConfig(stroke="transparent"))


cells = []
for r in range(9):
    for c in range(9):
        if c < r:
            cells.append(corner_panel(r, c))
        elif c == r:
            cells.append(hist_panel(r))
        else:
            cells.append(blank())

chart = alt.concat(*cells, columns=9, spacing=11, bounds="flush").properties(
    padding={"left": 0, "top": -2, "right": 5, "bottom": 5}, background="white"
).configure_view(stroke="black", strokeWidth=1.1)

chart.save("out.html", embed_options={"renderer": "svg", "actions": False})
